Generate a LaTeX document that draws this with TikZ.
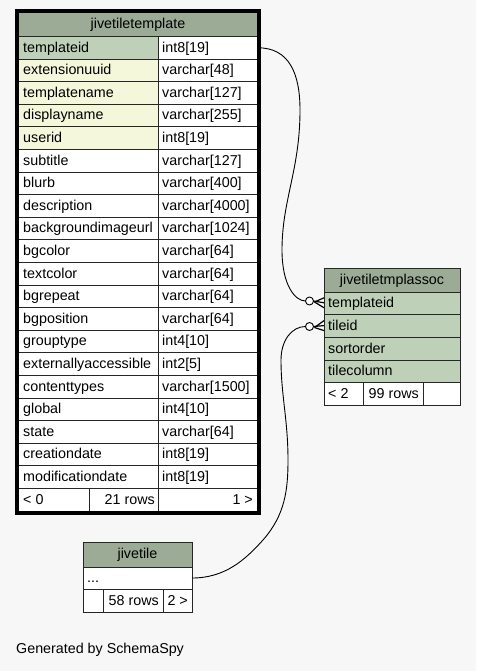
\documentclass[tikz,border=0pt]{standalone}
\usepackage{fontspec}
\setmainfont{Liberation Sans}
\usetikzlibrary{calc}
\definecolor{bgc}{HTML}{F7F7F7}
\definecolor{hdr}{HTML}{9BAB96}
\definecolor{keyc}{HTML}{BED1B8}
\definecolor{idxc}{HTML}{F4F7DA}
\begin{document}
\begin{tikzpicture}[x=1pt,y=-1pt,
  txt/.style={inner sep=0pt, text height=10.5pt, text depth=2.5pt, font=\fontsize{14.3}{16}\selectfont},
  grid/.style={draw=black!85, line width=0.9pt},
  rel/.style={draw=black, line width=0.9pt},
  crow/.style={draw=black, line width=1.2pt},
  opt/.style={draw=black, line width=0.9pt, fill=white}]
\fill[bgc] (0,0) rectangle (476,671);
\useasboundingbox (0,0) rectangle (476,671);

% ---------- jivetiletemplate ----------
\fill[hdr] (19,13) rectangle (257,36.5);
\node[txt] (tthead) at (138,24.8) {jivetiletemplate};
\foreach [count=\i from 0] \n/\t/\c in {
  templateid/int8[19]/keyc,
  extensionuuid/varchar[48]/idxc,
  templatename/varchar[127]/idxc,
  displayname/varchar[255]/idxc,
  userid/int8[19]/idxc,
  subtitle/varchar[127]/white,
  blurb/varchar[400]/white,
  description/varchar[4000]/white,
  backgroundimageurl/varchar[1024]/white,
  bgcolor/varchar[64]/white,
  textcolor/varchar[64]/white,
  bgrepeat/varchar[64]/white,
  bgposition/varchar[64]/white,
  grouptype/int4[10]/white,
  externallyaccessible/int2[5]/white,
  contenttypes/varchar[1500]/white,
  global/int4[10]/white,
  state/varchar[64]/white,
  creationdate/int8[19]/white,
  modificationdate/int8[19]/white}{
  \pgfmathsetmacro\yt{36.5+22.6*\i}
  \fill[\c] (19,\yt) rectangle (158,\yt+22.6);
  \fill[white] (158,\yt) rectangle (257,\yt+22.6);
  \node[txt,anchor=west] (ttn\i) at (23,\yt+11.6) {\n};
  \node[txt,anchor=west] (ttt\i) at (162,\yt+11.6) {\t};
  \draw[grid] (19,\yt) -- (257,\yt);
}
\fill[white] (19,488.5) rectangle (257,511.1);
\draw[grid] (19,488.5) -- (257,488.5);
\draw[grid] (158,36.5) -- (158,511.1);
\draw[grid] (89,488.5) -- (89,511.1);
\node[txt,anchor=west] (ttf1) at (23,500.1) {< 0};
\node[txt,anchor=east] (ttf2) at (155,500.1) {21 rows};
\node[txt,anchor=east] (ttf3) at (253,500.1) {1 >};
\draw[black, line width=3.5pt] (17,11.2) rectangle (259,512.8);
\coordinate (ttk) at (257.5,47.8);

% ---------- jivetiletmplassoc ----------
\fill[hdr] (324,268) rectangle (460,292);
\node[txt] (ahead) at (392,280.3) {jivetiletmplassoc};
\foreach [count=\i from 0] \n in {templateid,tileid,sortorder,tilecolumn}{
  \pgfmathsetmacro\yt{292+22.7*\i}
  \fill[keyc] (324,\yt) rectangle (460,\yt+22.7);
  \node[txt,anchor=west] (an\i) at (328,\yt+11.6) {\n};
  \draw[grid] (324,\yt) -- (460,\yt);
}
\fill[white] (324,382.8) rectangle (460,405.5);
\draw[grid] (324,382.8) -- (460,382.8);
\draw[grid] (363,382.8) -- (363,405.5);
\draw[grid] (423,382.8) -- (423,405.5);
\node[txt,anchor=west] (af1) at (328,394.4) {< 2};
\node[txt,anchor=east] (af2) at (419,394.4) {99 rows};
\draw[grid] (324,268) rectangle (460,405.5);
\coordinate (a0) at (324,302.8);
\coordinate (a1) at (324,325.6);

% ---------- jivetile ----------
\fill[hdr] (83,542) rectangle (192,567);
\node[txt] (jhead) at (137.5,554.8) {jivetile};
\fill[white] (83,567) rectangle (192,612);
\node[txt,anchor=west] (jrow) at (87,578.5) {...};
\draw[grid] (83,567) -- (192,567);
\draw[grid] (83,589.5) -- (192,589.5);
\draw[grid] (103,589.5) -- (103,612);
\draw[grid] (163,589.5) -- (163,612);
\node[txt,anchor=east] (jf2) at (159,601) {58 rows};
\node[txt,anchor=east] (jf3) at (188,601) {2 >};
\draw[grid] (83,542) rectangle (192,612);
\coordinate (jk) at (192,578);

% ---------- relationships ----------
\coordinate (c0) at (309.5,301);
\coordinate (c1) at (309.5,326.5);
\draw[rel] (ttk) .. controls (290,47.5) and (300,75) .. (300,110)
  .. controls (300,170) and (282,200) .. (282,250)
  .. controls (282,285) and (295,301) .. ($(c0)+(-4,0)$);
\draw[rel] (jk) .. controls (225,578) and (245,560) .. (263,540)
  .. controls (285,515) and (288,490) .. (288,460)
  .. controls (288,420) and (281,395) .. (281,360)
  .. controls (281,340) and (292,326.5) .. ($(c1)+(-4,0)$);
\foreach \k in {0,1}{
  \draw[crow] ($(c\k)+(4,0)$) -- ($(a\k)+(0,0)$);
  \draw[crow] ($(c\k)+(5,1)$) -- ($(a\k)+(0,-5)$);
  \draw[crow] ($(c\k)+(5,1)$) -- ($(a\k)+(0,5)$);
  \draw[opt] (c\k) circle (4);
}

\node[txt,anchor=west] (gen) at (16,649.3) {Generated by SchemaSpy};
\end{tikzpicture}
\end{document}
